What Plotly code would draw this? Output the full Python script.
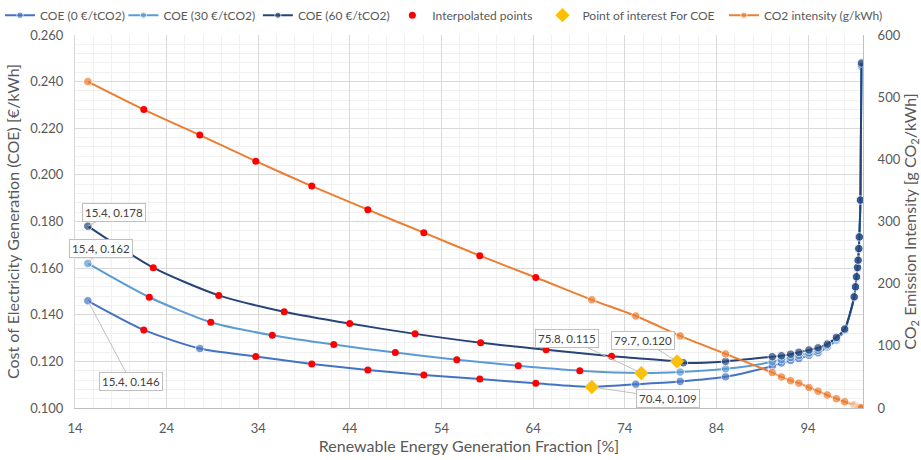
import plotly.graph_objects as go

# ---------------- data ----------------
# common high-RE part of the data (x in %)
re_tail = [90.1, 91.1, 92.1, 93.0, 94.1, 95.1, 96.1, 97.1, 98.0, 99.04, 99.18, 99.29, 99.4, 99.47, 99.54, 99.6, 99.72, 99.83]
coe0_tail = [0.1180, 0.1193, 0.1204, 0.1212, 0.1226, 0.1237, 0.1262, 0.1291, 0.1333, 0.1474, 0.1517, 0.1560, 0.1600, 0.1631, 0.1681, 0.1731, 0.1889, 0.2466]
coe30_tail = [0.1198, 0.1208, 0.1217, 0.1225, 0.1236, 0.1247, 0.1268, 0.1297, 0.1336, 0.1476, 0.1519, 0.1562, 0.1602, 0.1633, 0.1683, 0.1733, 0.1891, 0.2472]
coe60_tail = [0.1220, 0.1224, 0.1231, 0.1239, 0.1249, 0.1258, 0.1274, 0.1303, 0.1339, 0.1477, 0.1520, 0.1563, 0.1603, 0.1634, 0.1684, 0.1734, 0.1892, 0.2480]
co2_tail = [57, 50, 44, 40, 33, 27, 21, 15, 10, 4.8, 3.2, 2.1, 1.5, 1.1, 0.8, 0.5, 0.3, 0.1]

# lower-RE data points of each series
coe0_head_x = [15.4, 27.62, 70.4, 75.2, 80.05, 85.0]
coe0_head_y = [0.146, 0.1255, 0.1091, 0.1102, 0.1114, 0.1134]
coe30_head_x = [15.4, 75.8, 80.05, 85.0]
coe30_head_y = [0.162, 0.115, 0.1154, 0.1168]
coe60_head_x = [15.4, 79.7, 80.4, 85.0]
coe60_head_y = [0.178, 0.120, 0.1194, 0.1200]
co2_head_x = [15.4, 70.4, 75.2, 80.05, 85.0]
co2_head_y = [525, 174, 148, 116, 87]

# interpolated points
coe0_interp_x = [21.51, 33.73, 39.84, 45.96, 52.07, 58.18, 64.29]
coe0_interp_y = [0.1335, 0.1221, 0.1189, 0.1163, 0.1142, 0.1124, 0.1106]
coe30_interp_x = [22.11, 28.82, 35.53, 42.24, 48.96, 55.67, 62.38, 69.09]
coe30_interp_y = [0.1475, 0.1368, 0.1312, 0.1272, 0.1238, 0.1207, 0.1181, 0.1160]
coe60_interp_x = [22.54, 29.69, 36.83, 43.98, 51.12, 58.27, 65.41, 72.56]
coe60_interp_y = [0.1602, 0.1483, 0.1413, 0.1362, 0.1318, 0.1280, 0.1250, 0.1222]
co2_interp_x = [21.51, 27.62, 33.73, 39.84, 45.96, 52.07, 58.18, 64.29]
co2_interp_y = [480, 439, 397, 357, 319, 282, 245, 210]

# points of interest (minimum COE)
poi_x = [70.4, 75.8, 79.7]
poi_y = [0.109, 0.115, 0.120]

# ---------------- helpers ----------------
def build(head_x, head_y, interp_x, interp_y, tail_x, tail_y, size):
    pts = [(x, y, size) for x, y in zip(head_x, head_y)]
    pts += [(x, y, 0) for x, y in zip(interp_x, interp_y)]
    pts.sort(key=lambda p: p[0])
    pts += [(x, y, size) for x, y in zip(tail_x, tail_y)]
    return [p[0] for p in pts], [p[1] for p in pts], [p[2] for p in pts]

FONT = "Lato"
TXT = "#595959"
C0, C30, C60 = "#4472C4", "#5B9BD5", "#264478"
CORANGE, CRED, CYEL = "#ED7D31", "#FF0000", "#FFC000"
MS = 8.5
RS = 7

fig = go.Figure()

series = [
    ("COE (0 €/tCO2)", C0, coe0_head_x, coe0_head_y, coe0_interp_x, coe0_interp_y, coe0_tail, "legend"),
    ("COE (30 €/tCO2)", C30, coe30_head_x, coe30_head_y, coe30_interp_x, coe30_interp_y, coe30_tail, "legend2"),
    ("COE (60 €/tCO2)", C60, coe60_head_x, coe60_head_y, coe60_interp_x, coe60_interp_y, coe60_tail, "legend3"),
]
for name, col, hx, hy, ix, iy, ty, lg in series:
    xs, ys, ss = build(hx, hy, ix, iy, re_tail, ty, MS)
    fig.add_trace(go.Scatter(
        x=xs, y=ys, name=name, mode="lines+markers", legend=lg,
        line=dict(color=col, width=2, shape="spline", smoothing=0.7),
        marker=dict(color=col, size=ss, symbol="circle"),
    ))

fig.add_trace(go.Scatter(
    x=coe0_interp_x + coe30_interp_x + coe60_interp_x,
    y=coe0_interp_y + coe30_interp_y + coe60_interp_y,
    name="Interpolated points", mode="markers", legend="legend4",
    marker=dict(color=CRED, size=RS),
))
fig.add_trace(go.Scatter(
    x=poi_x, y=poi_y, name="Point of interest For COE", mode="markers", legend="legend5",
    marker=dict(color=CYEL, size=11, symbol="diamond"),
))

xs, ys, ss = build(co2_head_x, co2_head_y, co2_interp_x, co2_interp_y, re_tail, co2_tail, MS)
fig.add_trace(go.Scatter(
    x=xs, y=ys, name="CO2 intensity (g/kWh)", mode="lines+markers", yaxis="y2", legend="legend6",
    line=dict(color=CORANGE, width=2, shape="spline", smoothing=0.7),
    marker=dict(color=CORANGE, size=ss),
))
fig.add_trace(go.Scatter(
    x=co2_interp_x, y=co2_interp_y, mode="markers", yaxis="y2", showlegend=False,
    marker=dict(color=CRED, size=RS),
))

# ---------------- data labels ----------------
labels = [
    (coe60_head_x[0], coe60_head_y[0], 26, -14),
    (coe30_head_x[0], coe30_head_y[0], 13, -15),
    (coe0_head_x[0], coe0_head_y[0], 43, 81),
    (poi_x[0], poi_y[0], 76, 11),
    (poi_x[1], poi_y[1], -74, -35),
    (poi_x[2], poi_y[2], -34, -21),
]
for x, y, ax, ay in labels:
    fig.add_annotation(
        x=x, y=y, xref="x", yref="y", text=f"{x:.1f}, {y:.3f}",
        showarrow=True, arrowhead=0, arrowwidth=1, arrowcolor="#BFBFBF",
        ax=ax, ay=ay, bgcolor="white", bordercolor="#BFBFBF", borderwidth=1, borderpad=2,
        font=dict(family=FONT, size=11.5, color="#404040"),
    )

# ---------------- legends ----------------
leg_x = [-0.018, 0.134, 0.280, 0.426, 0.589, 0.786]
legs = {}
for i, lx in enumerate(leg_x):
    key = "legend" if i == 0 else f"legend{i + 1}"
    legs[key] = dict(
        orientation="h", xref="container", yref="container", x=lx, y=0.967,
        xanchor="left", yanchor="middle", bgcolor="rgba(0,0,0,0)",
        font=dict(family=FONT, size=12, color=TXT), itemwidth=30,
    )

fig.update_layout(
    width=921, height=460,
    margin=dict(l=75, r=58, t=35, b=52, autoexpand=False),
    paper_bgcolor="white", plot_bgcolor="white",
    font=dict(family=FONT, size=13, color=TXT),
    xaxis=dict(
        range=[14, 100], tick0=14, dtick=10, automargin=False,
        ticks="outside", ticklen=8, tickcolor="rgba(0,0,0,0)",
        showgrid=True, gridcolor="#D9D9D9", gridwidth=1,
        minor=dict(tick0=14, dtick=2, showgrid=True, gridcolor="#F0F0F0"),
        showline=True, linecolor="#BFBFBF", zeroline=False,
        title=dict(text="Renewable Energy Generation Fraction [%]", standoff=6),
    ),
    yaxis=dict(
        range=[0.1, 0.26], dtick=0.02, tickformat=".3f", automargin=False,
        ticks="outside", ticklen=8, tickcolor="rgba(0,0,0,0)",
        showgrid=True, gridcolor="#D9D9D9",
        minor=dict(dtick=0.004, showgrid=True, gridcolor="#F0F0F0"),
        showline=True, linecolor="#D9D9D9", zeroline=False,
        title=dict(text="Cost of Electricity Generation (COE) [€/kWh]", standoff=6),
    ),
    yaxis2=dict(
        overlaying="y", side="right", range=[0, 600], dtick=100, automargin=False,
        ticks="outside", ticklen=11, tickcolor="rgba(0,0,0,0)",
        showgrid=False, showline=True, linecolor="#BFBFBF", zeroline=False,
        title=dict(text="CO<sub>2</sub> Emission Intensity [g CO<sub>2</sub>/kWh]", standoff=6),
    ),
    **legs,
)

fig.write_html("out.html")
